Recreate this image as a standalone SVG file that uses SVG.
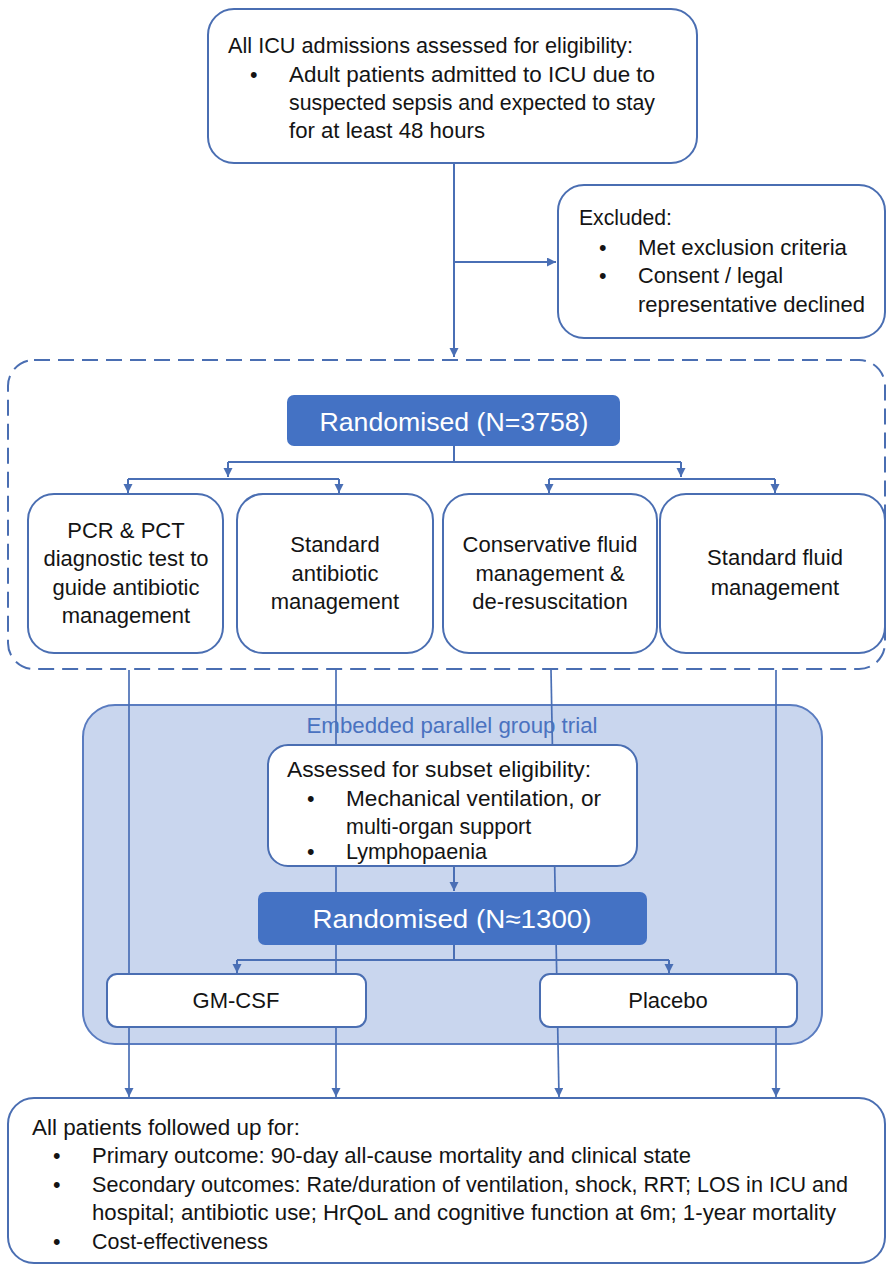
<svg xmlns="http://www.w3.org/2000/svg" width="887" height="1266" viewBox="0 0 887 1266">
<style>
.box{fill:#ffffff;stroke:#4a6eb2;stroke-width:2}
.rand{fill:#4472c4;stroke:none}
.t{font-family:"Liberation Sans",Arial,sans-serif;font-size:21.5px;fill:#141414}
.b{font-family:"Liberation Sans",Arial,sans-serif;font-size:22px;fill:#141414;text-anchor:middle}
.w{font-family:"Liberation Sans",Arial,sans-serif;font-size:26px;fill:#ffffff;text-anchor:middle}
.conn{stroke:#4a6fb5;stroke-width:2;fill:none}
.thin{stroke-width:1.7}
</style>
<defs>
<marker id="ah" markerUnits="userSpaceOnUse" markerWidth="10" markerHeight="10" refX="9" refY="4.5" orient="auto">
<path d="M0,0 L9,4.5 L0,9 z" fill="#4a6fb5"/>
</marker>
</defs>
<rect width="887" height="1266" fill="#ffffff"/>

<g id="eligibility">
<rect class="box" x="208" y="9" width="489" height="154" rx="26"/>
<text class="t" x="228" y="53" textLength="405" lengthAdjust="spacingAndGlyphs">All ICU admissions assessed for eligibility:</text>
<text class="t" x="250" y="82">•</text>
<text class="t" x="289" y="82" textLength="366" lengthAdjust="spacingAndGlyphs">Adult patients admitted to ICU due to</text>
<text class="t" x="289" y="110" textLength="366" lengthAdjust="spacingAndGlyphs">suspected sepsis and expected to stay</text>
<text class="t" x="289" y="138" textLength="196" lengthAdjust="spacingAndGlyphs">for at least 48 hours</text>
</g>

<g id="excluded">
<rect class="box" x="558" y="185" width="327" height="153" rx="26"/>
<text class="t" x="579" y="225" textLength="93" lengthAdjust="spacingAndGlyphs">Excluded:</text>
<text class="t" x="599" y="255">•</text>
<text class="t" x="638" y="255" textLength="209" lengthAdjust="spacingAndGlyphs">Met exclusion criteria</text>
<text class="t" x="599" y="283">•</text>
<text class="t" x="638" y="283" textLength="145" lengthAdjust="spacingAndGlyphs">Consent / legal</text>
<text class="t" x="638" y="312" textLength="227" lengthAdjust="spacingAndGlyphs">representative declined</text>
</g>

<g id="main-trial">
<rect x="8" y="360" width="877" height="309" rx="26" fill="none" stroke="#4a6eb2" stroke-width="2" stroke-dasharray="16 8"/>
</g>

<g id="randomised-main">
<rect class="rand" x="287" y="395" width="333" height="51" rx="7"/>
<text class="w" x="454" y="431" textLength="269" lengthAdjust="spacingAndGlyphs">Randomised (N=3758)</text>
</g>

<g id="pcr-pct">
<rect class="box" x="28" y="494" width="195" height="159" rx="26"/>
<text class="b" x="126" y="538">PCR &amp; PCT</text>
<text class="b" x="126" y="566">diagnostic test to</text>
<text class="b" x="126" y="595">guide antibiotic</text>
<text class="b" x="126" y="623">management</text>
</g>

<g id="standard-antibiotic">
<rect class="box" x="237" y="494" width="196" height="159" rx="26"/>
<text class="b" x="335" y="552">Standard</text>
<text class="b" x="335" y="581">antibiotic</text>
<text class="b" x="335" y="609">management</text>
</g>

<g id="conservative-fluid">
<rect class="box" x="443" y="494" width="214" height="159" rx="26"/>
<text class="b" x="550" y="552">Conservative fluid</text>
<text class="b" x="550" y="581">management &amp;</text>
<text class="b" x="550" y="609">de-resuscitation</text>
</g>

<g id="standard-fluid">
<rect class="box" x="660" y="494" width="225" height="159" rx="26"/>
<text class="b" x="775" y="565">Standard fluid</text>
<text class="b" x="775" y="595">management</text>
</g>

<g id="embedded-trial">
<rect x="83" y="705" width="739" height="339" rx="32" fill="#c9d6ee" stroke="#5a7cc0" stroke-width="2"/>
<text x="452" y="733" font-family="Liberation Sans, Arial, sans-serif" font-size="21.5" fill="#4a72c0" text-anchor="middle" textLength="291" lengthAdjust="spacingAndGlyphs">Embedded parallel group trial</text>
</g>

<g id="connectors">
<path class="conn" d="M454,163 V357" marker-end="url(#ah)"/>
<path class="conn" d="M454,262 H556" marker-end="url(#ah)"/>
<path class="conn" d="M454,446 V462 M228,462 H681"/>
<path class="conn" d="M228,462 V477" marker-end="url(#ah)"/>
<path class="conn" d="M681,462 V477" marker-end="url(#ah)"/>
<path class="conn" d="M128,479 H339 M549,479 H775"/>
<path class="conn" d="M128,479 V493" marker-end="url(#ah)"/>
<path class="conn" d="M339,479 V493" marker-end="url(#ah)"/>
<path class="conn" d="M549,479 V493" marker-end="url(#ah)"/>
<path class="conn" d="M775,479 V493" marker-end="url(#ah)"/>
<path class="conn thin" d="M129,670 V1097" marker-end="url(#ah)"/>
<path class="conn thin" d="M336,670 V1097" marker-end="url(#ah)"/>
<path class="conn thin" d="M551,670 L559,1097" marker-end="url(#ah)"/>
<path class="conn thin" d="M776,670 V1097" marker-end="url(#ah)"/>
<path class="conn" d="M454,867 V891" marker-end="url(#ah)"/>
<path class="conn" d="M454,945 V960 M237,960 H669"/>
<path class="conn" d="M237,960 V973" marker-end="url(#ah)"/>
<path class="conn" d="M669,960 V973" marker-end="url(#ah)"/>
</g>

<g id="subset-eligibility">
<rect class="box" x="268" y="745" width="369" height="121" rx="20"/>
<text class="t" x="287" y="777" textLength="304" lengthAdjust="spacingAndGlyphs">Assessed for subset eligibility:</text>
<text class="t" x="307" y="806">•</text>
<text class="t" x="346" y="806" textLength="255" lengthAdjust="spacingAndGlyphs">Mechanical ventilation, or</text>
<text class="t" x="346" y="834">multi-organ support</text>
<text class="t" x="307" y="859">•</text>
<text class="t" x="346" y="859" textLength="141" lengthAdjust="spacingAndGlyphs">Lymphopaenia</text>
</g>

<g id="randomised-subset">
<rect class="rand" x="258" y="892" width="389" height="53" rx="7"/>
<text class="w" x="452" y="928" textLength="279" lengthAdjust="spacingAndGlyphs">Randomised (N≈1300)</text>
</g>

<g id="gm-csf">
<rect class="box" x="107" y="974" width="259" height="53" rx="10"/>
<text class="b" x="236" y="1008">GM-CSF</text>
</g>

<g id="placebo">
<rect class="box" x="540" y="974" width="257" height="53" rx="10"/>
<text class="b" x="668" y="1008">Placebo</text>
</g>

<g id="follow-up">
<rect class="box" x="8" y="1098" width="877" height="165" rx="26"/>
<text class="t" x="32" y="1135" textLength="268" lengthAdjust="spacingAndGlyphs">All patients followed up for:</text>
<text class="t" x="53" y="1163">•</text>
<text class="t" x="92" y="1163" textLength="599" lengthAdjust="spacingAndGlyphs">Primary outcome: 90-day all-cause mortality and clinical state</text>
<text class="t" x="53" y="1192">•</text>
<text class="t" x="92" y="1192" textLength="756" lengthAdjust="spacingAndGlyphs">Secondary outcomes: Rate/duration of ventilation, shock, RRT; LOS in ICU and</text>
<text class="t" x="92" y="1220" textLength="744" lengthAdjust="spacingAndGlyphs">hospital; antibiotic use; HrQoL and cognitive function at 6m; 1-year mortality</text>
<text class="t" x="53" y="1249">•</text>
<text class="t" x="92" y="1249" textLength="176" lengthAdjust="spacingAndGlyphs">Cost-effectiveness</text>
</g>
</svg>
